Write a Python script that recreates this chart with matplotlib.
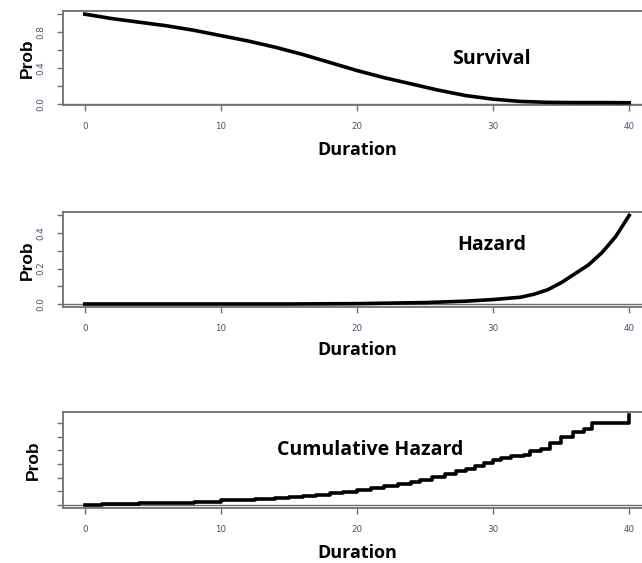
# plot.py
# Survival / hazard / cumulative hazard panels stacked, R base-graphics look.

import matplotlib
matplotlib.use("Agg")
import matplotlib.pyplot as plt

# survival curve (black fit + red dashed estimate underneath)
surv_x = [0, 2, 4, 6, 8, 10, 12, 14, 16, 18, 20, 22, 24, 26, 28, 30, 32, 34, 36, 38, 40]
surv_y = [1.0, 0.95, 0.91, 0.87, 0.82, 0.76, 0.70, 0.63, 0.55, 0.46, 0.37, 0.29,
          0.22, 0.15, 0.09, 0.05, 0.025, 0.015, 0.012, 0.012, 0.01]
surv_red = [1.0, 0.95, 0.91, 0.87, 0.82, 0.76, 0.70, 0.63, 0.55, 0.46, 0.37, 0.29,
            0.22, 0.15, 0.09, 0.05, 0.025, 0.012, 0.008, 0.004, 0.002]

# hazard
haz_x = [0, 5, 10, 15, 20, 25, 28, 30, 32, 33, 34, 35, 36, 37, 38, 39, 40]
haz_y = [0.0, 0.0, 0.0, 0.0, 0.002, 0.008, 0.016, 0.025, 0.038, 0.055, 0.08,
         0.12, 0.17, 0.22, 0.29, 0.38, 0.5]

# cumulative hazard (step function)
cum_x = [0, 1.3, 4, 6.2, 8, 10, 11, 12.5, 14, 15, 16, 17, 18, 19, 20, 21, 22, 23,
         24, 24.6, 25.5, 26.5, 27.3, 28, 28.7, 29.3, 30, 30.6, 31.3, 32.3, 32.7,
         33.5, 34.2, 35, 35.9, 36.7, 37.3, 40, 40]
cum_y = [0, 0.05, 0.12, 0.18, 0.25, 0.33, 0.38, 0.45, 0.52, 0.6, 0.68, 0.76, 0.85,
         0.95, 1.1, 1.25, 1.4, 1.55, 1.7, 1.85, 2.05, 2.25, 2.45, 2.65, 2.85, 3.05,
         3.3, 3.45, 3.55, 3.65, 3.95, 4.1, 4.5, 4.95, 5.35, 5.55, 6.0, 6.0, 6.55]

x_ticks = [0, 10, 20, 30, 40]

W, H = 642, 563
BOX = "#707070"
TICKCOL = "#4a5070"
LABELFONT = "Open Sans"

fig = plt.figure(figsize=(W / 100, H / 100), dpi=100)


def make_axes(top, bottom, left=63, right=651):
    return fig.add_axes([left / W, 1 - bottom / H, (right - left) / W, (bottom - top) / H])


def style(ax, ylim, yticks, ylabels):
    ax.set_xlim(-1.6, 41.6)
    ax.set_ylim(*ylim)
    ax.axhline(0, color=BOX, lw=1.0, zorder=1)
    for s in ax.spines.values():
        s.set_color(BOX)
        s.set_linewidth(1.3)
    ax.set_xticks(x_ticks)
    ax.set_xticklabels([str(t) for t in x_ticks])
    ax.set_yticks(yticks)
    if ylabels is None:
        ax.set_yticklabels([])
    else:
        ax.set_yticklabels(ylabels, rotation=90, va="center")
    ax.tick_params(axis="both", length=4.5, width=1.0, color=BOX,
                   labelsize=6.3, labelcolor=TICKCOL, pad=8)


# Panel 1: survival
ax1 = make_axes(11, 105)
ax1.plot(surv_x, surv_red, color="red", lw=1.0, ls="--", zorder=2)
ax1.plot(surv_x, surv_y, color="black", lw=2.6, zorder=3)
style(ax1, (-0.015, 1.035), [0, 0.2, 0.4, 0.6, 0.8, 1.0],
      ["0.0", "", "0.4", "", "0.8", ""])
ax1.text(29.9, 0.5, "Survival", fontsize=14, fontweight="bold",
         family=LABELFONT, ha="center", va="center")

# Panel 2: hazard
ax2 = make_axes(212, 307)
ax2.plot(haz_x, haz_y, color="black", lw=2.6, zorder=3)
style(ax2, (-0.017, 0.519), [0, 0.1, 0.2, 0.3, 0.4, 0.5],
      ["0.0", "", "0.2", "", "0.4", ""])
ax2.text(29.9, 0.33, "Hazard", fontsize=14, fontweight="bold",
         family=LABELFONT, ha="center", va="center")

# Panel 3: cumulative hazard
ax3 = make_axes(412, 508)
ax3.plot(cum_x, cum_y, color="black", lw=2.6, drawstyle="steps-post", zorder=3)
style(ax3, (-0.22, 6.79), [0, 1, 2, 3, 4, 5, 6], None)
ax3.text(21, 4.0, "Cumulative Hazard", fontsize=14, fontweight="bold",
         family=LABELFONT, ha="center", va="center")

# axis titles
for yc, xc in [(58, 27), (260, 27), (460, 33)]:
    fig.text(xc / W, 1 - yc / H, "Prob", rotation=90, fontsize=12.5,
             fontweight="bold", family="Liberation Sans", ha="center", va="center")
for yc in [150, 350, 553]:
    fig.text(357 / W, 1 - yc / H, "Duration", fontsize=13, fontweight="bold",
             family=LABELFONT, ha="center", va="center")

fig.savefig("out.png", dpi=100)
